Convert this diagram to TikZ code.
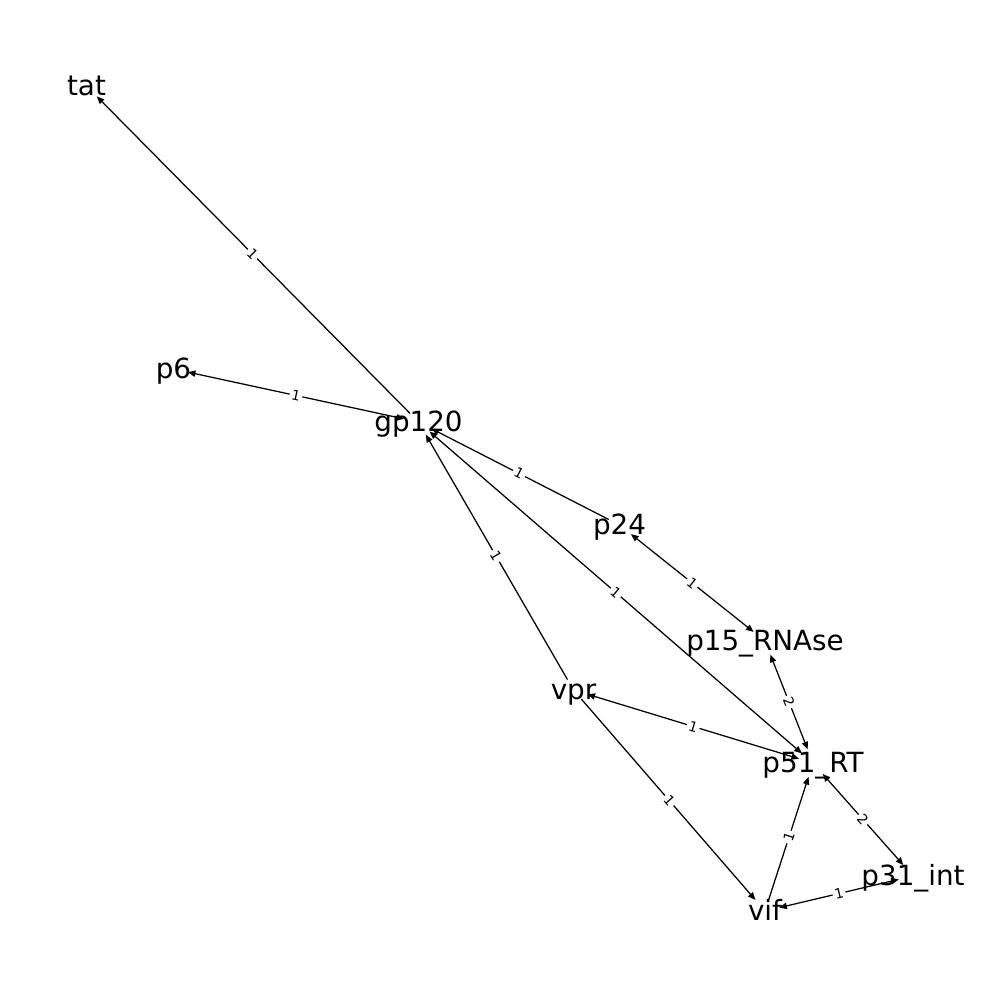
\documentclass[tikz,border=0pt]{standalone}
\usepackage{fontspec}
\setmainfont{DejaVu Sans}
\usetikzlibrary{arrows.meta}
\begin{document}
\begin{tikzpicture}[x=0.72pt,y=-0.72pt,
  vertex/.style={inner sep=0pt, font=\fontsize{20}{24}\selectfont, text height=0.73em, text depth=0.24em, yshift=-4.3pt},
  weight/.style={midway, sloped, fill=white, rounded corners=2pt, inner sep=1.5pt, font=\fontsize{10}{12}\selectfont},
  tip/.tip={Triangle[length=5.5pt,width=4.5pt]},
  oneway/.style={line width=0.9pt, shorten <=8.66pt, shorten >=10.5pt, -tip},
  twoway/.style={line width=0.9pt, shorten <=10.5pt, shorten >=10.5pt, tip-tip},
]
\useasboundingbox (0,0) rectangle (1000,1000);

% node centres
\coordinate (tat)   at (86.5,86);
\coordinate (p6)    at (173.5,369);
\coordinate (gp120) at (418.5,422);
\coordinate (p24)   at (619.5,525);
\coordinate (p15)   at (765,641);
\coordinate (vpr)   at (573.5,690);
\coordinate (p51)   at (813,763);
\coordinate (p31)   at (913,876);
\coordinate (vif)   at (765,911);

% edges
\draw[oneway] (gp120) -- node[weight]{1} (tat);
\draw[twoway] (gp120) -- node[weight]{1} (p6);
\draw[oneway] (p24) -- node[weight]{1} (gp120);
\draw[twoway] (p24) -- node[weight]{1} (p15);
\draw[oneway] (vpr) -- node[weight]{1} (gp120);
\draw[twoway] (p51) -- node[weight]{1} (gp120);
\draw[twoway] (p15) -- node[weight]{2} (p51);
\draw[twoway] (vpr) -- node[weight]{1} (p51);
\draw[oneway] (vpr) -- node[weight]{1} (vif);
\draw[oneway] (vif) -- node[weight]{1} (p51);
\draw[twoway] (p51) -- node[weight]{2} (p31);
\draw[twoway] (p31) -- node[weight]{1} (vif);

% node labels
\node[vertex] (tat-t)   at (tat)   {tat};
\node[vertex] (p6-t)    at (p6)    {p6};
\node[vertex] (gp120-t) at (gp120) {gp120};
\node[vertex] (p24-t)   at (p24)   {p24};
\node[vertex] (p15-t)   at (p15)   {p15\_RNAse};
\node[vertex] (vpr-t)   at (vpr)   {vpr};
\node[vertex] (p51-t)   at (p51)   {p51\_RT};
\node[vertex] (p31-t)   at (p31)   {p31\_int};
\node[vertex] (vif-t)   at (vif)   {vif};
\end{tikzpicture}
\end{document}
